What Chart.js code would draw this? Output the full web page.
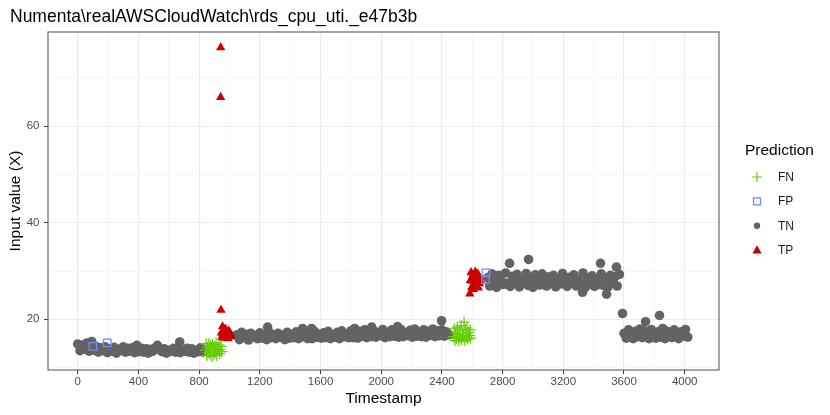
<!DOCTYPE html>
<html>
<head>
<meta charset="utf-8">
<script src="https://cdn.jsdelivr.net/npm/chart.js@4.4.0/dist/chart.umd.min.js"></script>
<style>
  body { margin: 0; background: #ffffff; }
  #wrap { width: 830px; height: 415px; }
</style>
</head>
<body>
<div id="wrap"><canvas id="anomalyChart" width="830" height="415"></canvas></div>
<script>
const chartTitle = "Numenta\\realAWSCloudWatch\\rds_cpu_uti._e47b3b";
const classes = ["FN", "FP", "TN", "TP"];

// TN points are sampled every 15 timestamps, each block starts at the given timestamp
const tnStep = 15;
const tnStartA = 0;
const tnSegA = [14.9, 13.5, 14.6, 13.8, 15.1, 13.4, 14.2, 13.6, 14.4, 13.2,
  14.1, 13.5, 14.3, 13.1, 13.9, 13.4, 14.2, 13.0, 13.8, 13.5,
  14.3, 13.2, 14.0, 13.4, 14.1, 13.1, 14.6, 13.3, 14.0, 13.2,
  13.9, 13.0, 13.8, 13.4, 14.1, 14.6, 13.7, 13.3, 13.9, 13.0,
  13.6, 13.4, 14.0, 13.2, 13.8, 13.1, 13.7, 13.4, 14.0, 13.2,
  13.9, 13.0, 13.6, 13.3, 14.1, 13.2];
const tnStartB = 1050;
const tnSegB = [16.8, 15.8, 17.3, 16.2, 16.9, 15.7, 17.1, 16.3, 16.7, 16.0,
  17.2, 16.1, 16.6, 15.8, 17.4, 16.2, 16.8, 16.0, 17.1, 16.3,
  16.7, 15.8, 17.3, 16.1, 16.9, 16.2, 17.4, 16.0, 17.3, 16.4,
  16.8, 16.0, 17.4, 16.0, 17.5, 16.3, 16.9, 16.1, 17.2, 16.2,
  17.5, 16.0, 16.8, 16.3, 17.3, 16.0, 17.6, 16.4, 16.9, 16.2,
  17.6, 16.2, 17.0, 16.1, 17.5, 16.5, 17.8, 16.2, 17.1, 16.4,
  17.7, 16.3, 17.2, 16.6, 17.9, 16.2, 17.3, 16.4, 17.8, 16.5,
  17.6, 16.3, 17.9, 16.4, 17.2, 16.6, 17.7, 16.3, 18.0, 16.5,
  17.4, 16.4, 17.8, 16.3, 17.5, 16.7, 18.0, 16.4, 17.6, 16.6,
  17.8, 16.5, 17.4, 16.8];
const tnStartC = 2700;
const tnSegC = [28.6, 26.9, 29.4, 27.8, 26.6, 29.1, 28.0, 27.2, 29.6, 27.5,
  26.8, 28.9, 27.7, 29.3, 26.7, 28.3, 27.4, 29.5, 27.0, 28.5,
  26.6, 29.2, 27.9, 27.1, 29.4, 28.2, 26.9, 28.8, 27.6, 29.1,
  26.7, 28.4, 27.3, 29.5, 27.9, 26.8, 28.7, 27.5, 29.2, 26.9,
  28.1, 27.4, 29.6, 26.6, 28.6, 27.8, 29.0, 26.8, 28.3, 27.2,
  29.4, 27.0, 28.5, 26.7, 29.1, 27.7, 28.8, 26.9, 29.3];
const tnStartD = 3600;
const tnSegD = [17.1, 16.1, 17.8, 16.6, 16.0, 17.5, 16.4, 18.0, 16.2, 17.6,
  16.5, 16.0, 17.9, 16.7, 16.1, 17.4, 16.3, 18.1, 16.0, 17.5,
  16.6, 16.2, 17.8, 16.8, 16.0, 17.4, 16.5, 17.9, 16.3];
// isolated TN points
const tnExtraX = [92, 672, 1251, 1482, 1541, 1825, 1937, 2108, 2398, 2846, 2971, 3445, 3550, 3327, 3485, 3590, 3742, 3834];
const tnExtraY = [15.4, 15.3, 18.4, 18.1, 18.1, 18.1, 18.4, 18.5, 19.7, 31.6, 32.4, 31.6, 30.8, 25.6, 25.2, 21.2, 19.5, 20.8];

const fnX = [842, 846, 851, 856, 860, 865, 870, 874, 879, 884, 888, 893, 898, 902, 907, 912, 916, 921, 926, 930, 935, 940, 944, 950,
  2476, 2481, 2486, 2491, 2496, 2501, 2506, 2511, 2516, 2521, 2526, 2531, 2536, 2541, 2546, 2551, 2556, 2561, 2566, 2571, 2576, 2581, 2586, 2590];
const fnY = [13.6, 14.9, 12.5, 14.2, 13.1, 15.0, 12.8, 14.5, 13.4, 12.3, 14.8, 13.9, 12.7, 14.3, 13.2, 15.1, 12.5, 14.0, 13.6, 14.7, 12.9, 13.8, 14.4, 13.3,
  16.4, 18.0, 15.6, 17.2, 16.0, 18.4, 16.8, 15.5, 17.6, 16.2, 18.7, 15.8, 17.0, 16.5, 19.4, 15.6, 17.9, 16.3, 18.2, 15.9, 17.3, 16.6, 17.8, 16.1];

const fpX = [100, 194, 2688, 2690];
const fpY = [14.4, 15.1, 28.2, 29.6];

const tpX = [942, 942, 944, 946, 950, 954, 958, 962, 966, 970, 974, 978, 982, 986, 990, 995, 1000, 1005, 1010,
  2584, 2588, 2592, 2596, 2600, 2604, 2608, 2612, 2616, 2620, 2624, 2628, 2632, 2636, 2640, 2644, 2648, 2652];
const tpY = [76.3, 66.0, 21.9, 17.2, 16.3, 18.5, 17.0, 16.1, 17.8, 16.6, 18.0, 16.2, 17.4, 16.8, 16.0, 17.6, 16.4, 17.1, 16.5,
  25.3, 28.1, 29.7, 26.6, 27.9, 29.2, 26.2, 28.6, 27.3, 29.8, 26.9, 28.3, 27.6, 29.4, 26.5, 28.8, 27.4, 28.0];

const xMajorTicks = [0, 400, 800, 1200, 1600, 2000, 2400, 2800, 3200, 3600, 4000];
const xMinorTicks = [200, 600, 1000, 1400, 1800, 2200, 2600, 3000, 3400, 3800, 4200];
const yMajorTicks = [20, 40, 60];
const yMinorTicks = [10, 30, 50, 70];

const FONT = "'Liberation Sans', Arial, Helvetica, sans-serif";
const colors = { FN: "#66cd00", FP: "#6f8cff", TN: "#636363", TP: "#cd0000" };

function block(start, values) {
  return values.map((v, i) => ({ x: start + i * tnStep, y: v }));
}
function pairs(xs, ys) {
  return xs.map((x, i) => ({ x: x, y: ys[i] }));
}

const tnData = [].concat(
  block(tnStartA, tnSegA),
  block(tnStartB, tnSegB),
  block(tnStartC, tnSegC),
  block(tnStartD, tnSegD),
  pairs(tnExtraX, tnExtraY)
);

function tickList(major, minor) {
  return major.concat(minor).sort((a, b) => a - b).map(v => ({ value: v }));
}

const plotTitle = {
  id: "plotTitle",
  afterDraw(chart) {
    const c = chart.ctx;
    c.save();
    c.fillStyle = "#000000";
    c.font = "17.5px " + FONT;
    c.textBaseline = "alphabetic";
    c.textAlign = "left";
    c.fillText(chartTitle, 10, 22);
    c.restore();
  }
};

const panelBorder = {
  id: "panelBorder",
  afterDatasetsDraw(chart) {
    const a = chart.chartArea;
    const c = chart.ctx;
    c.save();
    c.strokeStyle = "#6b6b6b";
    c.lineWidth = 1.2;
    c.strokeRect(a.left, a.top, a.right - a.left, a.bottom - a.top);
    c.restore();
  }
};

const sideLegend = {
  id: "sideLegend",
  afterDraw(chart) {
    const c = chart.ctx;
    c.save();
    c.fillStyle = "#000000";
    c.font = "15.5px " + FONT;
    c.textBaseline = "alphabetic";
    c.textAlign = "left";
    c.fillText("Prediction", 745, 155);
    c.font = "12px " + FONT;
    c.textBaseline = "middle";
    classes.forEach((name, i) => {
      const y = 177 + i * 24.4;
      const x = 757;
      const col = colors[name];
      c.fillStyle = col;
      c.strokeStyle = col;
      c.beginPath();
      if (name === "FN") {
        c.lineWidth = 1.2;
        c.moveTo(x - 5, y); c.lineTo(x + 5, y);
        c.moveTo(x, y - 5); c.lineTo(x, y + 5);
        c.stroke();
      } else if (name === "FP") {
        c.lineWidth = 1.3;
        c.strokeRect(x - 3.5, y - 3.5, 7, 7);
      } else if (name === "TN") {
        c.arc(x, y, 3.2, 0, Math.PI * 2);
        c.fill();
      } else {
        c.moveTo(x, y - 5);
        c.lineTo(x + 4.6, y + 3.2);
        c.lineTo(x - 4.6, y + 3.2);
        c.closePath();
        c.fill();
      }
      c.fillStyle = "#1a1a1a";
      c.fillText(name, 778, y + 0.5);
    });
    c.restore();
  }
};

const ctx = document.getElementById("anomalyChart").getContext("2d");

new Chart(ctx, {
  type: "scatter",
  data: {
    datasets: [
      {
        label: "FN",
        data: pairs(fnX, fnY),
        pointStyle: "cross",
        pointRadius: 5.5,
        borderColor: colors.FN,
        borderWidth: 1.2,
        backgroundColor: colors.FN,
        order: 2
      },
      {
        label: "FP",
        data: pairs(fpX, fpY),
        pointStyle: "rect",
        pointRadius: 5.3,
        borderColor: colors.FP,
        borderWidth: 1.3,
        backgroundColor: "rgba(0,0,0,0)",
        order: 0
      },
      {
        label: "TN",
        data: tnData,
        pointStyle: "circle",
        pointRadius: 4.8,
        borderWidth: 0,
        backgroundColor: colors.TN,
        order: 3
      },
      {
        label: "TP",
        data: pairs(tpX, tpY),
        pointStyle: "triangle",
        pointRadius: 5.4,
        borderWidth: 0,
        backgroundColor: colors.TP,
        order: 1
      }
    ]
  },
  options: {
    responsive: false,
    animation: false,
    events: [],
    layout: { padding: { top: 32, right: 111, bottom: 0, left: 0 } },
    plugins: {
      legend: { display: false },
      tooltip: { enabled: false },
      title: { display: false }
    },
    scales: {
      x: {
        type: "linear",
        min: -196,
        max: 4226,
        afterBuildTicks: s => { s.ticks = tickList(xMajorTicks, xMinorTicks); },
        afterFit: s => { s.height = 45; },
        border: { display: false },
        grid: {
          color: c => (c.tick.value % 400 === 0 ? "#ebebeb" : "#f3f3f3"),
          lineWidth: c => (c.tick.value % 400 === 0 ? 1.1 : 0.7),
          tickColor: c => (c.tick.value % 400 === 0 ? "#333333" : "rgba(0,0,0,0)"),
          tickLength: 4,
          tickWidth: 1
        },
        ticks: {
          autoSkip: false,
          maxRotation: 0,
          padding: 1,
          color: "#4d4d4d",
          font: { family: FONT, size: 11.5 },
          callback: v => (v % 400 === 0 ? String(v) : "")
        },
        title: {
          display: true,
          text: "Timestamp",
          color: "#000000",
          font: { family: FONT, size: 15.5 },
          padding: { top: 0, bottom: 7 }
        }
      },
      y: {
        type: "linear",
        min: 9.5,
        max: 79.5,
        afterBuildTicks: s => { s.ticks = tickList(yMajorTicks, yMinorTicks); },
        afterFit: s => { s.width = 48; },
        border: { display: false },
        grid: {
          color: c => (c.tick.value % 20 === 0 ? "#ebebeb" : "#f3f3f3"),
          lineWidth: c => (c.tick.value % 20 === 0 ? 1.1 : 0.7),
          tickColor: c => (c.tick.value % 20 === 0 ? "#333333" : "rgba(0,0,0,0)"),
          tickLength: 4,
          tickWidth: 1
        },
        ticks: {
          autoSkip: false,
          padding: 4.5,
          color: "#4d4d4d",
          font: { family: FONT, size: 11.5 },
          callback: v => (v % 20 === 0 ? String(v) : "")
        },
        title: {
          display: true,
          text: "Input value (X)",
          color: "#000000",
          font: { family: FONT, size: 15.5 },
          padding: { top: 6, bottom: 0 }
        }
      }
    }
  },
  plugins: [plotTitle, panelBorder, sideLegend]
});
</script>
</body>
</html>
